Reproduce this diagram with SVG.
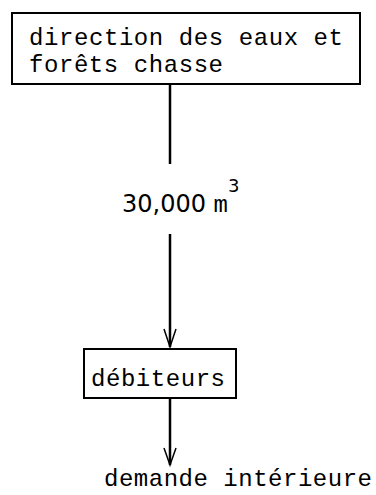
<svg xmlns="http://www.w3.org/2000/svg" width="376" height="495" viewBox="0 0 376 495">
  <defs>
    <style>
      .box { fill: #fff; stroke: #000; stroke-width: 2; }
      .tw { font-family: "Liberation Mono", "Courier New", monospace; font-size: 24px; fill: #000; }
      .num { font-family: "DejaVu Sans", "Liberation Sans", sans-serif; font-size: 24px; fill: #000; }
      .link { stroke: #000; stroke-width: 2.5; fill: none; }
      .head { stroke: #000; stroke-width: 1.5; fill: none; }
    </style>
  </defs>
  <rect width="376" height="495" fill="#fff"/>

  <g id="eaux-forets">
    <rect class="box" x="12" y="13" width="348" height="71"/>
    <text class="tw" x="29" y="45" textLength="314" lengthAdjust="spacing">direction des eaux et</text>
    <text class="tw" x="29" y="72" textLength="194" lengthAdjust="spacing">forêts chasse</text>
  </g>

  <g id="volume">
    <text class="num" x="122" y="212">30,000 <tspan class="tw">m</tspan><tspan font-size="18" dy="-20">3</tspan></text>
  </g>

  <g id="debiteurs">
    <rect class="box" x="84" y="349" width="152" height="49"/>
    <text class="tw" x="91" y="386" textLength="134" lengthAdjust="spacing">débiteurs</text>
  </g>

  <g id="demande">
    <text class="tw" x="104" y="486" textLength="268" lengthAdjust="spacing">demande intérieure</text>
  </g>

  <g id="connectors">
    <line class="link" x1="170" y1="84" x2="170" y2="164"/>
    <line class="link" x1="170" y1="234" x2="170" y2="347"/>
    <polyline class="head" points="164,329 170,347 176,329"/>
    <line class="link" x1="170" y1="398" x2="170" y2="465"/>
    <polyline class="head" points="164,448 170,465 176,448"/>
  </g>
</svg>
